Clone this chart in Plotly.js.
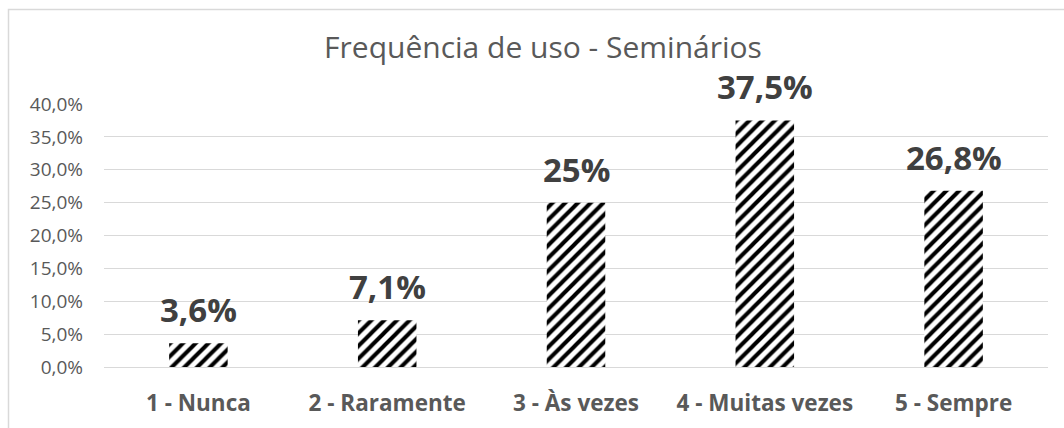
<!DOCTYPE html>
<html>
<head>
<meta charset="utf-8">
<script src="https://cdn.plot.ly/plotly-3.0.1.min.js"></script>
<style>
html,body{margin:0;padding:0;background:#fff;}
#chart{width:1064px;height:428px;}
</style>
</head>
<body>
<div id="chart"></div>
<script>
const categories = ["1 - Nunca", "2 - Raramente", "3 - Às vezes", "4 - Muitas vezes", "5 - Sempre"];
const values = [3.6, 7.1, 25, 37.5, 26.8];
const valueLabels = ["3,6%", "7,1%", "25%", "37,5%", "26,8%"];
const yTickVals = [0, 5, 10, 15, 20, 25, 30, 35, 40];
const yTickText = ["0,0%", "5,0%", "10,0%", "15,0%", "20,0%", "25,0%", "30,0%", "35,0%", "40,0%"];
const chartTitle = "Frequência de uso - Seminários";

const FONT = "'Open Sans', sans-serif";
const W = 1064, H = 428;
const m = {l: 104, r: 16, t: 104, b: 61};
const pw = W - m.l - m.r, ph = H - m.t - m.b;
const px = v => (v - m.l) / pw;
const py = v => (H - m.b - v) / ph;

const trace = {
  type: "bar",
  x: categories,
  y: values,
  width: 0.31,
  marker: {
    color: "white",
    line: {width: 0},
    pattern: {shape: "/", fgcolor: "black", bgcolor: "white", size: 9, solidity: 0.45, fillmode: "replace"}
  },
  hoverinfo: "skip"
};

const annotations = categories.map((c, i) => ({
  x: c, y: values[i], xref: "x", yref: "y",
  text: "<b>" + valueLabels[i] + "</b>",
  showarrow: false, yanchor: "bottom", yshift: 9,
  font: {family: FONT, size: 33, color: "#404040"}
}));

const layout = {
  width: W, height: H,
  margin: m,
  paper_bgcolor: "white", plot_bgcolor: "white",
  showlegend: false,
  title: {text: chartTitle, x: 543 / W, xanchor: "center", xref: "container", y: 1 - 47 / H, yanchor: "middle", yref: "container",
          font: {family: FONT, size: 30, color: "#595959"}},
  xaxis: {
    type: "category",
    showgrid: false, zeroline: false,
    showline: true, linecolor: "#d9d9d9", linewidth: 1,
    ticks: "", ticklabelstandoff: 16,
    tickfont: {family: FONT, size: 22.5, color: "#595959", weight: "bold"}
  },
  yaxis: {
    range: [0, 40], tickvals: yTickVals, ticktext: yTickText,
    showgrid: true, gridcolor: "#d9d9d9", gridwidth: 1,
    zeroline: false, showline: false, ticks: "", ticklabelstandoff: 20,
    tickfont: {family: FONT, size: 19, color: "#595959"}
  },
  annotations: annotations,
  shapes: [{
    type: "rect", xref: "paper", yref: "paper",
    x0: px(8.5), x1: px(1080), y0: py(440), y1: py(9.5),
    line: {color: "#d9d9d9", width: 1.5}, fillcolor: "rgba(0,0,0,0)", layer: "above"
  }]
};

Plotly.newPlot("chart", [trace], layout, {staticPlot: true, displayModeBar: false});
</script>
</body>
</html>
